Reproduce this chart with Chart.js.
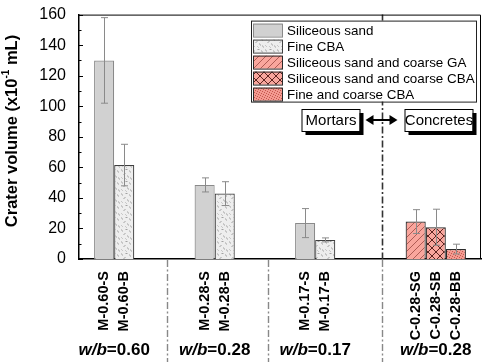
<!DOCTYPE html>
<html><head><meta charset="utf-8">
<script src="https://cdn.jsdelivr.net/npm/chart.js@4/dist/chart.umd.min.js"></script>
<style>html,body{margin:0;padding:0;background:#fff}#wrap{width:484px;height:362px}</style>
</head><body><div id="wrap"><canvas id="c" width="484" height="362"></canvas></div>
<script>
// ---- data ----
const categories = ['M-0.60-S','M-0.60-B','M-0.28-S','M-0.28-B','M-0.17-S','M-0.17-B','C-0.28-SG','C-0.28-SB','C-0.28-BB'];
const values = [130, 61.5, 48.5, 42.8, 23.5, 12.5, 24.5, 20.8, 6.5];
const errors = [28, 13.6, 4.6, 7.8, 9.5, 1.3, 7.8, 11.8, 3.2];
const seriesIndex = [0,1,0,1,0,1,2,3,4];
const seriesNames = ['Siliceous sand','Fine CBA','Siliceous sand and coarse GA','Siliceous sand and coarse CBA','Fine and coarse CBA'];
const groupLabels = ['0.60','0.28','0.17','0.28'];
const groupOf = [0,0,1,1,2,2,3,3,3];
const yTicks = [0,20,40,60,80,100,120,140,160];

// ---- layout (slot units on the category axis) ----
const slotOf = [2,4,12,14,22,24,33,35,37];
const slotCount = 40;
const dividerSlots = [8.25, 18.3, 29.65];
const mainDivider = 2;

const FONT = "'Liberation Sans', Arial, sans-serif";

function tile(w, h, draw) {
  const c = document.createElement('canvas');
  c.width = w; c.height = h;
  const g = c.getContext('2d');
  draw(g, w, h);
  return g.createPattern(c, 'repeat');
}
const patFine = tile(12, 12, (g, w, h) => {
  g.fillStyle = '#eeeeee'; g.fillRect(0, 0, w, h);
  g.strokeStyle = '#a2a2a2'; g.lineWidth = 1;
  const segs = [[1,1,2,3],[5,1,7,1],[9,2,10,4],[3,6,5,5],[7,7,8,9],[10,9,11,11],[1,9,2,10],[5,10,6,11]];
  segs.forEach(s => { g.beginPath(); g.moveTo(s[0]+0.5, s[1]+0.5); g.lineTo(s[2]+0.5, s[3]+0.5); g.stroke(); });
});
const salmon = '#f9a69d';
const patSG = tile(7, 7, (g, w, h) => {
  g.fillStyle = salmon; g.fillRect(0, 0, w, h);
  g.strokeStyle = '#9a4741'; g.lineWidth = 0.8;
  [[-7,0],[0,0],[7,0]].forEach(o => { g.beginPath(); g.moveTo(o[0], h); g.lineTo(o[0]+w, 0); g.stroke(); });
});
const patSB = tile(8, 8, (g, w, h) => {
  g.fillStyle = salmon; g.fillRect(0, 0, w, h);
  g.strokeStyle = '#5e2420'; g.lineWidth = 1;
  g.beginPath(); g.moveTo(0, h); g.lineTo(w, 0); g.stroke();
  g.beginPath(); g.moveTo(0, 0); g.lineTo(w, h); g.stroke();
});
const patBB = tile(5, 5, (g, w, h) => {
  g.fillStyle = '#f49a90'; g.fillRect(0, 0, w, h);
  g.fillStyle = '#c4564e';
  [[0,0],[2,1],[4,2],[1,3],[3,4]].forEach(p => g.fillRect(p[0], p[1], 1, 1));
});
const fills = ['#d1d1d1', patFine, patSG, patSB, patBB];
const borders = ['#8a8a8a', '#404040', '#2a2a2a', '#2a2a2a', '#2a2a2a'];

const labels = Array(slotCount).fill('');
categories.forEach((c, i) => { labels[slotOf[i]] = c; });

const datasets = seriesNames.map((name, s) => {
  const data = Array(slotCount).fill(null);
  categories.forEach((c, i) => { if (seriesIndex[i] === s) data[slotOf[i]] = values[i]; });
  return { label: name, data, backgroundColor: fills[s], borderColor: borders[s], borderWidth: 1.2,
           barPercentage: 2, categoryPercentage: 1 };
});

function dashLine(ctx, x, y1, y2, color, w) {
  ctx.save();
  ctx.strokeStyle = color; ctx.lineWidth = w; ctx.setLineDash([7, 2.5, 2, 2.5]);
  ctx.beginPath(); ctx.moveTo(x, y1); ctx.lineTo(x, y2); ctx.stroke();
  ctx.restore();
}

const decor = {
  id: 'decor',
  afterDatasetsDraw(chart) {
    const {ctx} = chart; const xs = chart.scales.x, ys = chart.scales.y;
    ctx.save();
    ctx.strokeStyle = '#8a8a8a'; ctx.lineWidth = 1;
    categories.forEach((c, i) => {
      const x = Math.round(xs.getPixelForValue(slotOf[i])) + 0.5;
      const t = ys.getPixelForValue(values[i] + errors[i]);
      const b = ys.getPixelForValue(Math.max(values[i] - errors[i], 0));
      ctx.beginPath();
      ctx.moveTo(x, b); ctx.lineTo(x, t);
      ctx.moveTo(x - 3.5, t); ctx.lineTo(x + 3.5, t);
      ctx.moveTo(x - 3.5, b); ctx.lineTo(x + 3.5, b);
      ctx.stroke();
    });
    ctx.restore();
  },
  afterDraw(chart) {
    const {ctx, chartArea: ca} = chart; const xs = chart.scales.x, ys = chart.scales.y;
    const H = chart.height;
    // dividers
    dividerSlots.forEach((d, k) => {
      const x = Math.round(xs.getPixelForValue(d)) + 0.5;
      if (k === mainDivider) {
        dashLine(ctx, x, ca.top, ca.bottom, '#333', 1.6);
        dashLine(ctx, x, ca.bottom + 1, H, '#888', 1.4);
      } else {
        dashLine(ctx, x, ca.bottom + 1, H, '#888', 1.4);
      }
    });
    // frame
    ctx.save();
    ctx.strokeStyle = '#000'; ctx.lineWidth = 1;
    ctx.beginPath();
    ctx.moveTo(ca.left, ca.top + 0.5); ctx.lineTo(ca.right - 0.5, ca.top + 0.5); ctx.lineTo(ca.right - 0.5, ca.bottom);
    ctx.stroke();
    // inward y ticks
    for (let v = 0; v <= 160; v += 10) {
      const y = Math.round(ys.getPixelForValue(v)) + 0.5;
      const len = v % 20 === 0 ? 4 : 2.5;
      ctx.beginPath(); ctx.moveTo(ca.left, y); ctx.lineTo(ca.left + len, y); ctx.stroke();
    }
    ctx.restore();
    // legend
    const lx = ca.right - 230, ly = ca.top + 6, lw = 225, lh = 81;
    ctx.save();
    ctx.fillStyle = '#fff'; ctx.fillRect(lx, ly, lw, lh);
    ctx.strokeStyle = '#222'; ctx.lineWidth = 1;
    ctx.strokeRect(lx + 0.5, ly + 0.5, lw, lh);
    ctx.font = '13.4px ' + FONT; ctx.textBaseline = 'middle'; ctx.fillStyle = '#000';
    seriesNames.forEach((n, s) => {
      const ry = ly + 3 + 16 * s;
      ctx.fillStyle = fills[s]; ctx.fillRect(lx + 2, ry, 29, 13);
      ctx.strokeStyle = borders[s]; ctx.strokeRect(lx + 2.5, ry + 0.5, 29, 13);
      ctx.fillStyle = '#000'; ctx.fillText(n, lx + 36, ry + 7.5);
    });
    ctx.restore();
    // Mortars / Concretes annotation
    const dx = Math.round(xs.getPixelForValue(dividerSlots[mainDivider])) + 0.5;
    const ay = Math.round(ys.getPixelForValue(91));
    ctx.save();
    ctx.font = '15px ' + FONT; ctx.textAlign = 'center'; ctx.textBaseline = 'middle';
    [['Mortars', dx - 81, 58], ['Concretes', dx + 22, 68]].forEach(([t, bx, bw]) => {
      const by = ay - 11, bh = 22;
      ctx.fillStyle = '#000'; ctx.fillRect(bx + 4, by + 4, bw, bh);
      ctx.fillStyle = '#fff'; ctx.fillRect(bx, by, bw, bh);
      ctx.strokeStyle = '#000'; ctx.lineWidth = 1; ctx.strokeRect(bx + 0.5, by + 0.5, bw, bh);
      ctx.fillStyle = '#000'; ctx.fillText(t, bx + bw / 2 + 0.5, ay + 1);
    });
    // arrow
    const a1 = dx - 17, a2 = dx + 15;
    ctx.strokeStyle = '#000'; ctx.lineWidth = 2;
    ctx.beginPath(); ctx.moveTo(a1 + 4, ay); ctx.lineTo(a2 - 4, ay); ctx.stroke();
    ctx.fillStyle = '#000';
    ctx.beginPath(); ctx.moveTo(a1, ay); ctx.lineTo(a1 + 8, ay - 5); ctx.lineTo(a1 + 8, ay + 5); ctx.closePath(); ctx.fill();
    ctx.beginPath(); ctx.moveTo(a2, ay); ctx.lineTo(a2 - 8, ay - 5); ctx.lineTo(a2 - 8, ay + 5); ctx.closePath(); ctx.fill();
    ctx.restore();
    // group labels
    ctx.save();
    ctx.textBaseline = 'middle'; ctx.fillStyle = '#000';
    groupLabels.forEach((g, k) => {
      const idx = slotOf.filter((s, i) => groupOf[i] === k);
      const cx = (xs.getPixelForValue(idx[0]) + xs.getPixelForValue(idx[idx.length - 1])) / 2;
      const f1 = 'italic bold 17px ' + FONT, f2 = 'bold 17px ' + FONT;
      ctx.font = f1; const w1 = ctx.measureText('w/b').width;
      ctx.font = f2; const w2 = ctx.measureText('=' + g).width;
      let x = cx - (w1 + w2) / 2;
      ctx.font = f1; ctx.fillText('w/b', x, 350);
      ctx.font = f2; ctx.fillText('=' + g, x + w1, 350);
    });
    ctx.restore();
    // y title
    ctx.save();
    ctx.translate(12, 131); ctx.rotate(-Math.PI / 2);
    ctx.fillStyle = '#000'; ctx.textBaseline = 'middle';
    const p1 = 'Crater volume (x10', p2 = '-1', p3 = ' mL)';
    const F = 'bold 16.5px ' + FONT, Fs = 'bold 10px ' + FONT;
    ctx.font = F; const w1 = ctx.measureText(p1).width, w3 = ctx.measureText(p3).width;
    ctx.font = Fs; const w2 = ctx.measureText(p2).width;
    let x = -(w1 + w2 + w3) / 2;
    ctx.font = F; ctx.fillText(p1, x, 0); x += w1;
    ctx.font = Fs; ctx.fillText(p2, x, -6); x += w2;
    ctx.font = F; ctx.fillText(p3, x, 0);
    ctx.restore();
  }
};

new Chart(document.getElementById('c'), {
  type: 'bar',
  data: { labels, datasets },
  options: {
    responsive: false, animation: false, devicePixelRatio: 1,
    layout: { padding: { top: 7, right: 3, left: 0, bottom: 0 } },
    plugins: { legend: { display: false }, tooltip: { enabled: false } },
    scales: {
      x: {
        stacked: true, offset: true,
        grid: { display: false },
        border: { display: true, color: '#000', width: 1.5 },
        ticks: { autoSkip: false, maxRotation: 90, minRotation: 90, padding: 4, color: '#000',
                 font: { family: FONT, size: 14.5, weight: 'bold' } },
        afterFit: s => { s.height = 103; s.paddingLeft = 0; s.paddingRight = 0; }
      },
      y: {
        min: 0, max: 160,
        grid: { display: false },
        border: { display: true, color: '#000', width: 1.5 },
        afterBuildTicks: s => { s.ticks = yTicks.map(v => ({ value: v })); },
        ticks: { padding: 5, color: '#000', font: { family: FONT, size: 16 } },
        afterFit: s => { s.width = 79; }
      }
    }
  },
  plugins: [decor]
});
</script>
</body></html>
